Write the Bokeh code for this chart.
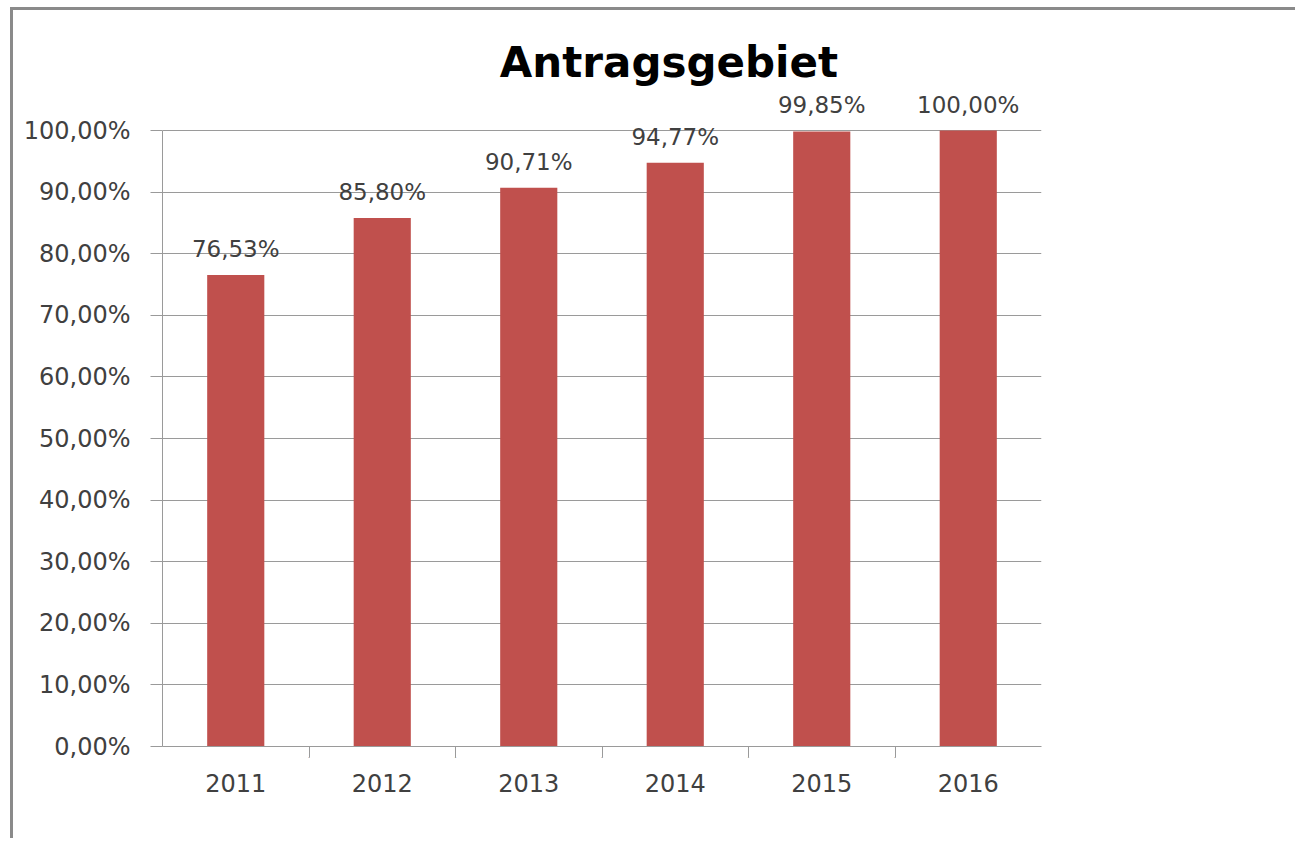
from bokeh.plotting import figure
from bokeh.models import (ColumnDataSource, FactorRange, Range1d, FixedTicker,
                          CategoricalAxis, LabelSet, Label)
from bokeh.core.properties import value
from bokeh.embed import file_html
from bokeh.resources import INLINE

# ---- data ----
years = ["2011", "2012", "2013", "2014", "2015", "2016"]
values = [76.53, 85.80, 90.71, 94.77, 99.85, 100.00]
value_labels = ["76,53%", "85,80%", "90,71%", "94,77%", "99,85%", "100,00%"]
y_ticks = [0, 10, 20, 30, 40, 50, 60, 70, 80, 90, 100]
y_tick_labels = ["0,00%", "10,00%", "20,00%", "30,00%", "40,00%", "50,00%",
                 "60,00%", "70,00%", "80,00%", "90,00%", "100,00%"]
title_text = "Antragsgebiet"

BAR = "#C0504D"
GRID = "#9a9a9a"
TXT = "#404040"
FONT = "DejaVu Sans"

# frame geometry (page px): frame top just under the border, 100% line at 130, 0% at 746
FRAME_TOP, LINE_100, LINE_0 = 10, 130, 746
y_top = 100.0 * (LINE_0 - FRAME_TOP) / (LINE_0 - LINE_100)
px_per_unit = (LINE_0 - LINE_100) / 100.0

src = ColumnDataSource(dict(year=years, val=values, lab=value_labels))

p = figure(width=1285, height=831, x_range=FactorRange(factors=years),
           y_range=Range1d(0, y_top), output_backend="svg", toolbar_location=None,
           min_border_left=149, min_border_top=0, min_border_right=257,
           min_border_bottom=831 - (LINE_0 - FRAME_TOP))
p.styles = {"border-left": "3px solid #8a8a8a", "border-top": "3px solid #8a8a8a",
            "margin-left": "10px", "margin-top": "7px"}
p.outline_line_color = None
p.background_fill_color = "white"
p.border_fill_color = "white"

p.vbar(x="year", top="val", width=0.39, source=src, fill_color=BAR, line_color=None)

# y axis
ya = p.yaxis[0]
ya.ticker = FixedTicker(ticks=y_ticks)
ya.bounds = (0, 100)
ya.major_label_overrides = {t: l for t, l in zip(y_ticks, y_tick_labels)}
ya.axis_line_color = GRID
ya.major_tick_line_color = GRID
ya.major_tick_out = 12
ya.major_tick_in = 0
ya.minor_tick_line_color = None
ya.major_label_standoff = 20
ya.major_label_text_font = FONT
ya.major_label_text_font_size = "24px"
ya.major_label_text_color = TXT

p.xgrid.grid_line_color = None
p.ygrid.ticker = FixedTicker(ticks=y_ticks)
p.ygrid.grid_line_color = GRID

# x axis: category-boundary ticks (a shifted factor range) + category label axis
bounds = ["b%d" % i for i in range(len(years) + 1)]
p.extra_x_ranges = {"bounds": FactorRange(factors=bounds, range_padding=-0.5,
                                          range_padding_units="absolute")}
tick_axis = CategoricalAxis(x_range_name="bounds",
                            major_label_overrides={b: " " for b in bounds},
                            major_label_text_font_size="1px",
                            major_label_standoff=0,
                            major_tick_out=11, major_tick_in=0,
                            major_tick_line_color=GRID, axis_line_color=GRID)
xa = p.xaxis[0]
xa.axis_line_color = None
xa.major_tick_line_color = None
xa.major_tick_out = 0
xa.major_tick_in = 0
xa.major_label_standoff = 12
xa.major_label_text_font = FONT
xa.major_label_text_font_size = "24px"
xa.major_label_text_color = TXT
p.below = [tick_axis, xa]

labels = LabelSet(x="year", y="val", text="lab", source=src, text_align="center",
                  text_baseline="middle", y_offset=26, text_font=value(FONT),
                  text_font_size=value("23px"), text_color=value(TXT))
p.add_layout(labels)

title = Label(x=3.457, y=100 + (LINE_100 - 62) / px_per_unit, text=title_text,
              text_align="center", text_baseline="middle", text_font="DejaVu Sans",
              text_font_style="bold", text_font_size="42px", text_color="#000000")
p.add_layout(title)

open("out.html", "w").write(file_html(p, INLINE))
